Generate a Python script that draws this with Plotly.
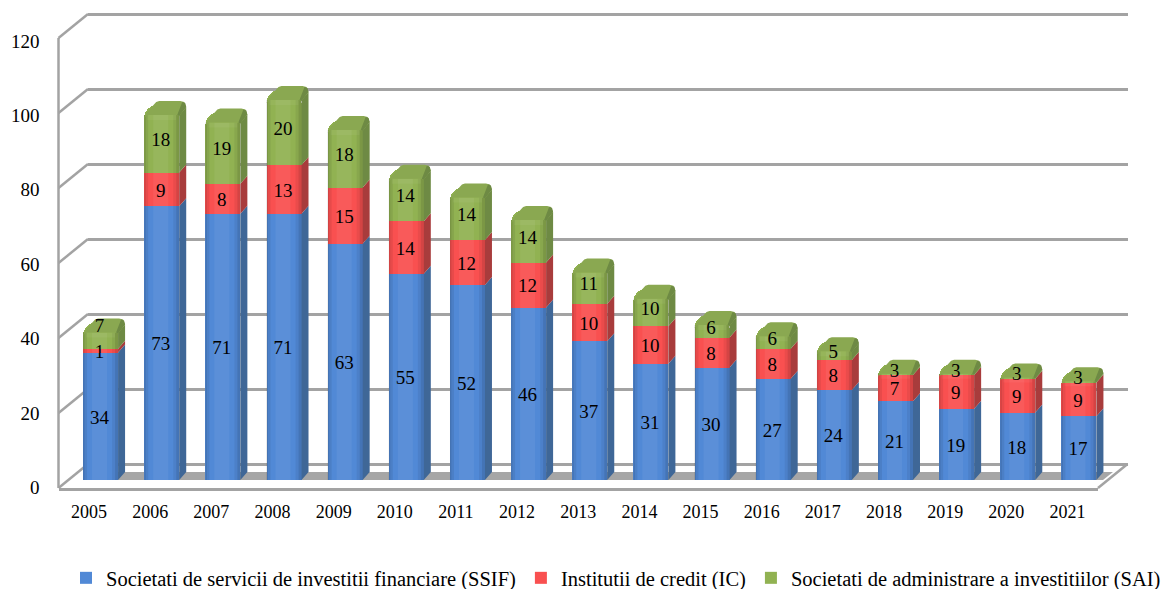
import plotly.graph_objects as go

YEARS = [2005, 2006, 2007, 2008, 2009, 2010, 2011, 2012, 2013, 2014, 2015, 2016, 2017, 2018, 2019, 2020, 2021]
SSIF = [34, 73, 71, 71, 63, 55, 52, 46, 37, 31, 30, 27, 24, 21, 19, 18, 17]
IC = [1, 9, 8, 13, 15, 14, 12, 12, 10, 10, 8, 8, 8, 7, 9, 9, 9]
SAI = [7, 18, 19, 20, 18, 14, 14, 14, 11, 10, 6, 6, 5, 3, 3, 3, 3]
Y_TICKS = [0, 20, 40, 60, 80, 100, 120]
SERIES_NAMES = [
    "Societati de servicii de investitii financiare (SSIF)",
    "Institutii de credit (IC)",
    "Societati de administrare a investitiilor (SAI)",
]
FRONT = ["#5189D6", "#F95050", "#91B252"]
SIDE = ["#3F6797", "#A83C3C", "#6E8A44"]
CAP = "#8AA851"

W, H = 1165, 589
FONT = "Liberation Serif"
GRID = "#A3A3A3"
X0, X1, Y0, YTOP = 58.5, 1098.0, 488.0, 38.0
LABEL_Y0, LABEL_YTOP = 487.5, 41.0
BACK_DX, BACK_DY = 29.5, 24.0
BAR_DX, BAR_DY = 11.5, 8.0
UX = (X1 - X0) / len(YEARS)
UY = (Y0 - YTOP) / 120.0
FACE = 35.0
DEPTH_X, DEPTH_Y = 7.0, 8.0


def dom_x(dx):
    return [(X0 + dx) / W, (X1 + dx) / W]


def dom_y(dy):
    return [(H - (Y0 - dy)) / H, (H - (YTOP - dy)) / H]


def poly_trace(polys, color):
    xs, ys = [], []
    for p in polys:
        for a, b in p:
            xs.append(a)
            ys.append(b)
        xs.append(p[0][0])
        ys.append(p[0][1])
        xs.append(None)
        ys.append(None)
    return go.Scatter(x=xs, y=ys, mode="lines", fill="toself", fillcolor=color,
                      line=dict(width=0, color=color), hoverinfo="skip", showlegend=False,
                      xaxis="x3", yaxis="y3")


def pt(year, px, value, py=0.0):
    """px measured from the face's left edge, py upward in pixels from value."""
    return (year + (px - FACE / 2) / UX, value + py / UY)


fig = go.Figure()
fig.add_trace(go.Scatter(x=[None], y=[None], showlegend=False, hoverinfo="skip", xaxis="x", yaxis="y"))
fig.add_trace(go.Scatter(x=[None], y=[None], showlegend=False, hoverinfo="skip", xaxis="x2", yaxis="y2"))

fig.add_trace(go.Bar(x=YEARS, y=SSIF, name=SERIES_NAMES[0], marker=dict(color=FRONT[0], line=dict(width=0)),
                     width=FACE / UX, xaxis="x3", yaxis="y3"))
fig.add_trace(go.Bar(x=YEARS, y=IC, name=SERIES_NAMES[1], marker=dict(color=FRONT[1], line=dict(width=0)),
                     width=FACE / UX, xaxis="x3", yaxis="y3"))
fig.add_trace(go.Bar(x=YEARS, y=SAI, name=SERIES_NAMES[2], showlegend=False,
                     marker=dict(color=FRONT[2], line=dict(width=0), cornerradius=13),
                     width=FACE / UX, xaxis="x3", yaxis="y3"))
# legend swatch for the third series (square, unlike the rounded bar ends)
fig.add_trace(go.Bar(x=[None], y=[None], name=SERIES_NAMES[2], marker=dict(color=FRONT[2], line=dict(width=0)),
                     hoverinfo="skip", xaxis="x3", yaxis="y3"))

totals = [a + b + c for a, b, c in zip(SSIF, IC, SAI)]
bases = [[0] * len(YEARS), SSIF, [a + b for a, b in zip(SSIF, IC)]]
tops = [SSIF, [a + b for a, b in zip(SSIF, IC)], totals]

# side faces
for k in range(3):
    polys = []
    for i, yr in enumerate(YEARS):
        polys.append([
            pt(yr, FACE, bases[k][i]), pt(yr, FACE + DEPTH_X, bases[k][i], DEPTH_Y),
            pt(yr, FACE + DEPTH_X, tops[k][i], DEPTH_Y if k < 2 else -2),
            pt(yr, FACE, tops[k][i], 0 if k < 2 else -10),
        ])
    fig.add_trace(poly_trace(polys, SIDE[k]))

# cylinder-like shading of the front faces
for a, b, c in [(0, 1.5, "rgba(0,0,0,0.16)"), (1.5, 4, "rgba(0,0,0,0.07)"),
                (9, 24, "rgba(255,255,255,0.06)"),
                (29, 32, "rgba(0,0,0,0.06)"), (32, 35, "rgba(0,0,0,0.15)")]:
    polys = []
    for i, yr in enumerate(YEARS):
        polys.append([pt(yr, a, 0), pt(yr, b, 0), pt(yr, b, totals[i], -10), pt(yr, a, totals[i], -10)])
    fig.add_trace(poly_trace(polys, c))

# lit band just under the bevel
band = []
for i, yr in enumerate(YEARS):
    t = totals[i]
    band.append([pt(yr, 3, t, -15), pt(yr, FACE - 3, t, -15), pt(yr, FACE - 3, t, -10), pt(yr, 3, t, -10)])
fig.add_trace(poly_trace(band, "rgba(255,255,255,0.05)"))

# bevelled tops
caps = []
for i, yr in enumerate(YEARS):
    t = totals[i]
    R = FACE
    caps.append([
        pt(yr, 0, t, -13), pt(yr, 2, t, -8), pt(yr, 12, t, 3), pt(yr, 15, t, 4),
        pt(yr, R + 1, t, 4), pt(yr, R + 5, t, 3), pt(yr, R + 7, t, -2),
        pt(yr, R, t, -11), pt(yr, R - 3, t, -10), pt(yr, 3, t, -10),
    ])
fig.add_trace(poly_trace(caps, CAP))
ridge = []
for i, yr in enumerate(YEARS):
    t = totals[i]
    ridge.append([pt(yr, FACE - 2, t, -10), pt(yr, FACE + 3, t, 3), pt(yr, FACE + 6, t, 2),
                  pt(yr, FACE + 7, t, -2), pt(yr, FACE, t, -11)])
fig.add_trace(poly_trace(ridge, SIDE[2]))

# value labels
lx, ly, lt = [], [], []
for k, vals in enumerate([SSIF, IC, SAI]):
    for i, yr in enumerate(YEARS):
        nudge = 2.8 if (yr == 2005 and k == 2) else 0
        a, b = pt(yr, FACE / 2 - 1, bases[k][i] + vals[i] / 2 + nudge, -2.5)
        lx.append(a)
        ly.append(b)
        lt.append(str(vals[i]))
fig.add_trace(go.Scatter(x=lx, y=ly, text=lt, mode="text", textposition="middle center",
                         textfont=dict(family=FONT, size=19, color="black"),
                         hoverinfo="skip", showlegend=False, xaxis="x3", yaxis="y3"))


def p(x, y):
    return x / W, 1 - y / H


shapes = []
fx0, fy0 = p(X0 + 24.5, 480)
fx1, fy1 = p(X0 + 32.5, 472)
fx2, _ = p(1113, 472)
fx3, _ = p(1103, 480)
shapes.append(dict(type="path", xref="paper", yref="paper", layer="below",
                   path=f"M{fx0},{fy0} L{fx1},{fy1} L{fx2},{fy1} L{fx3},{fy0} Z",
                   fillcolor="#A6A6A6", line=dict(width=0)))
for v in Y_TICKS:
    yf = Y0 - v * UY
    a, b = p(X0, yf)
    c, d = p(X0 + BACK_DX, yf - BACK_DY)
    shapes.append(dict(type="line", xref="paper", yref="paper", layer="below",
                       x0=a, y0=b, x1=c, y1=d, line=dict(color=GRID, width=2.5)))
a, b = p(X1, Y0)
c, d = p(X1 + BACK_DX, Y0 - BACK_DY)
shapes.append(dict(type="line", xref="paper", yref="paper", layer="below",
                   x0=a, y0=b, x1=c, y1=d, line=dict(color=GRID, width=2.5)))
a, b = p(X0, Y0)
c, d = p(X0, YTOP)
shapes.append(dict(type="line", xref="paper", yref="paper", layer="below",
                   x0=a, y0=b, x1=c, y1=d, line=dict(color=GRID, width=2.5)))

BACK_TOP_VALUE = 122

fig.update_layout(
    width=W, height=H, margin=dict(l=0, r=0, t=0, b=0, autoexpand=False),
    paper_bgcolor="white", plot_bgcolor="rgba(0,0,0,0)",
    barmode="stack", shapes=shapes,
    font=dict(family=FONT, color="black"),
    hovermode="closest",
    xaxis=dict(domain=dom_x(0), range=[YEARS[0] - 0.5, YEARS[-1] + 0.5], tickvals=YEARS,
               ticktext=[str(y) for y in YEARS], showgrid=False, zeroline=False, showline=True,
               linecolor=GRID, linewidth=2.5, ticks="", ticklabelstandoff=6,
               tickfont=dict(family=FONT, size=18, color="black"), anchor="y", automargin=False),
    yaxis=dict(domain=[(H - LABEL_Y0) / H, (H - LABEL_YTOP) / H], range=[0, 120], tickvals=Y_TICKS,
               showgrid=False, zeroline=False, showline=False, ticks="", ticklabelstandoff=18,
               tickfont=dict(family=FONT, size=19, color="black"), anchor="x", automargin=False),
    xaxis2=dict(domain=dom_x(BACK_DX), range=[YEARS[0] - 0.5, YEARS[-1] + 0.5], visible=False, anchor="y2"),
    yaxis2=dict(domain=[(H - (Y0 - BACK_DY)) / H, (H - (Y0 - BACK_DY - BACK_TOP_VALUE * UY)) / H],
                range=[0, BACK_TOP_VALUE], tickvals=Y_TICKS, showgrid=True, gridcolor=GRID,
                gridwidth=2.5, zeroline=True, zerolinecolor=GRID, zerolinewidth=2.5,
                showticklabels=False, ticks="", showline=False, anchor="x2"),
    xaxis3=dict(domain=dom_x(BAR_DX), range=[YEARS[0] - 0.5, YEARS[-1] + 0.5], visible=False, anchor="y3"),
    yaxis3=dict(domain=dom_y(BAR_DY), range=[0, 120], visible=False, anchor="x3"),
    legend=dict(orientation="h", x=66 / W, xanchor="left", y=(H - 578) / H, yanchor="middle",
                traceorder="normal",
                font=dict(family=FONT, size=20.5, color="black"), bgcolor="rgba(0,0,0,0)",
                itemclick=False, itemdoubleclick=False),
    showlegend=True,
)

fig.write_html("out.html", config={"displayModeBar": False},
               post_script="document.body.style.margin='0';")
